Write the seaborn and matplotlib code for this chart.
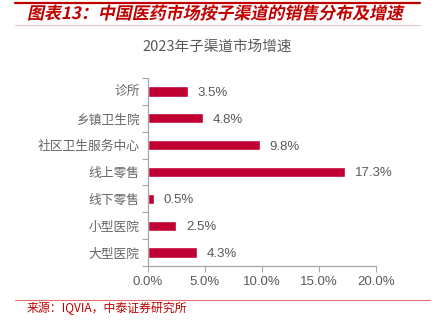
import matplotlib
matplotlib.use("Agg")
import matplotlib.pyplot as plt
import seaborn as sns
import pandas as pd
from matplotlib.lines import Line2D
from matplotlib.ticker import FuncFormatter, FixedLocator
from matplotlib.textpath import TextPath
from matplotlib.font_manager import FontProperties
from matplotlib.patches import PathPatch
from matplotlib.transforms import Affine2D

channels = ["诊所", "乡镇卫生院", "社区卫生服务中心", "线上零售", "线下零售", "小型医院", "大型医院"]
growth = [3.5, 4.8, 9.8, 17.3, 0.5, 2.5, 4.3]
x_ticks = [0, 5, 10, 15, 20]

sns.set_theme(style="white")
plt.rcParams["font.family"] = ["Liberation Sans", "Noto Sans CJK SC", "DejaVu Sans"]

BAR = "#C00032"
GREY = "#595959"
RED = "#C00000"
CJK = ["Noto Sans CJK SC", "DejaVu Sans"]

df = pd.DataFrame({"channel": channels, "growth": growth})

W, H, DPI = 4.35, 3.24, 100
fig = plt.figure(figsize=(W, H), dpi=DPI)
ax = fig.add_axes([148 / 435, 1 - 266 / 324, (376 - 148) / 435, (266 - 78) / 324])

sns.barplot(data=df, x="growth", y="channel", color=BAR, width=0.38,
            saturation=1, ax=ax, orient="h")

ax.set_xlim(0, 20)
ax.set_ylim(len(channels) - 0.5, -0.5)
ax.xaxis.set_major_locator(FixedLocator(x_ticks))
ax.xaxis.set_major_formatter(FuncFormatter(lambda v, p: f"{v:.1f}%"))
ax.set_xlabel("")
ax.set_ylabel("")

# category separators as tick marks on the left spine
ax.yaxis.set_minor_locator(FixedLocator([i - 0.5 for i in range(len(channels) + 1)]))
ax.tick_params(axis="y", which="major", length=0, pad=6, labelsize=9.2,
               labelcolor="#666666")
ax.tick_params(axis="y", which="minor", length=4, width=0.8, color="#A6A6A6",
               direction="out", left=True)
ax.tick_params(axis="x", which="major", length=4, width=0.8, color="#A6A6A6",
               direction="out", bottom=True, labelsize=9.5, labelcolor=GREY, pad=3)
for lbl in ax.get_yticklabels():
    lbl.set_fontfamily(CJK)

for side in ["top", "right"]:
    ax.spines[side].set_visible(False)
for side in ["left", "bottom"]:
    ax.spines[side].set_color("#A6A6A6")
    ax.spines[side].set_linewidth(0.9)

value_texts = ax.bar_label(ax.containers[0], labels=[f"{v:.1f}%" for v in growth],
                           padding=7, fontsize=9.5, color=GREY)
for t in value_texts:
    t.set_verticalalignment("center_baseline")

# header: rules and slanted bold caption
fig.add_artist(Line2D([15 / 435, 420 / 435], [1 - 3 / 324] * 2, color=RED, lw=1.6))
fig.add_artist(Line2D([15 / 435, 420 / 435], [1 - 25 / 324] * 2, color="#E6C8C8", lw=0.8))

caption = "图表13：中国医药市场按子渠道的销售分布及增速"
tp = TextPath((0, 0), caption, size=12.2,
              prop=FontProperties(family="Noto Sans CJK SC", weight="bold"))
px = DPI / 72.0
caption_tf = (Affine2D().skew_deg(12, 0).scale(px)
              .translate(27, H * DPI - 19))
fig.add_artist(PathPatch(caption_tf.transform_path(tp), transform=None,
                         facecolor=RED, edgecolor="none"))

fig.text(217 / 435, 1 - 47 / 324, "2023年子渠道市场增速", color=GREY, fontsize=10.5,
         family=CJK, va="center", ha="center")

# source footer
fig.add_artist(Line2D([15 / 435, 430 / 435], [1 - 300 / 324] * 2, color="#E07070", lw=0.8))
fig.text(27 / 435, 1 - 308 / 324, "来源：IQVIA，中泰证券研究所", color=RED, fontsize=8.6,
         family=CJK, va="center", ha="left")

fig.savefig("out.png", dpi=DPI)
